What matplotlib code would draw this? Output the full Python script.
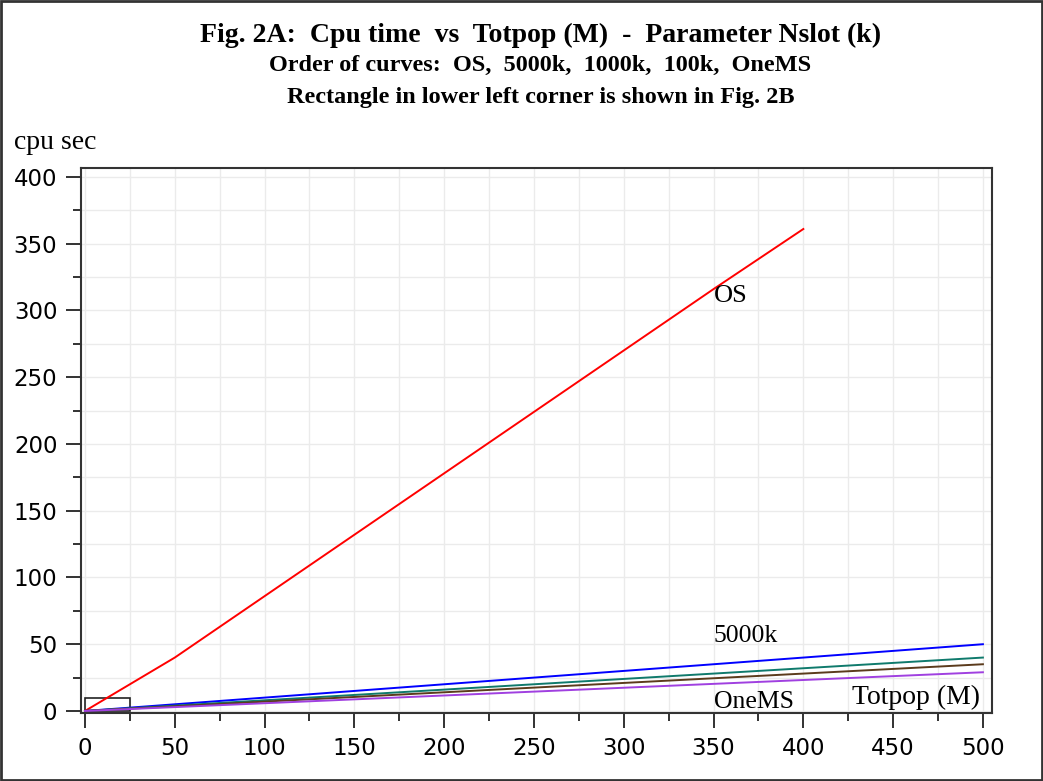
import matplotlib
matplotlib.use("Agg")
import matplotlib.pyplot as plt
from matplotlib.patches import Rectangle
from matplotlib.ticker import MultipleLocator

# cpu seconds per total population (millions), one series per Nslot setting
totpop_os = [0, 50, 100, 150, 200, 250, 300, 350, 400]
cpu_os = [0, 40, 86, 132, 178, 224, 270, 316, 361]

totpop = [0, 50, 100, 150, 200, 250, 300, 350, 400, 450, 500]
cpu_5000k = [0, 5, 10, 15, 20, 25, 30, 35, 40, 45, 50]
cpu_1000k = [0, 4, 8, 12, 16, 20, 24, 28, 32, 36, 40]
cpu_100k = [0, 3.5, 7, 10.5, 14, 17.5, 21, 24.5, 28, 31.5, 35]
cpu_onems = [0, 2.9, 5.8, 8.7, 11.6, 14.5, 17.4, 20.3, 23.2, 26.1, 29]

zoom_box = (0, 0, 25, 10)  # x0, y0, width, height of the detail region

serif = ["Liberation Serif", "DejaVu Serif"]

fig = plt.figure(figsize=(10.43, 7.81), dpi=100)
ax = fig.add_axes([0.0777, 0.0871, 0.8733, 0.6978])

ax.plot(totpop_os, cpu_os, color="#ff0000", lw=1.4)
ax.plot(totpop, cpu_5000k, color="#0000ff", lw=1.4)
ax.plot(totpop, cpu_1000k, color="#0f7a6c", lw=1.4)
ax.plot(totpop, cpu_100k, color="#5b3b1c", lw=1.4)
ax.plot(totpop, cpu_onems, color="#a040e0", lw=1.4)

x0, y0, w, h = zoom_box
ax.add_patch(Rectangle((x0, y0), w, h, fill=False, edgecolor="#222222", lw=1.2))

ax.set_xlim(-2.2, 505)
ax.set_ylim(-1.5, 406.7)
ax.xaxis.set_major_locator(MultipleLocator(50))
ax.xaxis.set_minor_locator(MultipleLocator(25))
ax.yaxis.set_major_locator(MultipleLocator(50))
ax.yaxis.set_minor_locator(MultipleLocator(25))
ax.grid(True, which="both", color="#ebebeb", lw=1.0)
ax.set_axisbelow(True)
ax.tick_params(which="major", length=11, width=1.3, labelsize=16.5, color="#222222", pad=6)
ax.tick_params(which="minor", length=6, width=1.3, color="#222222")
for s in ax.spines.values():
    s.set_color("#333333")
    s.set_linewidth(1.5)

ax.text(350, 311, "OS", family=serif, fontsize=19, va="center")
ax.text(350, 56, "5000k", family=serif, fontsize=18.5, va="center")
ax.text(350, 7, "OneMS", family=serif, fontsize=18.5, va="center")
ax.text(427, 10, "Totpop (M)", family=serif, fontsize=20, va="center")

fig.text(0.0135, 0.817, "cpu sec", family=serif, fontsize=20, va="center")

fig.text(0.518, 0.955, "Fig. 2A:  Cpu time  vs  Totpop (M)  -  Parameter Nslot (k)",
         family=serif, fontsize=20, weight="bold", ha="center", va="center")
fig.text(0.518, 0.916, "Order of curves:  OS,  5000k,  1000k,  100k,  OneMS",
         family=serif, fontsize=17.5, weight="bold", ha="center", va="center")
fig.text(0.518, 0.875, "Rectangle in lower left corner is shown in Fig. 2B",
         family=serif, fontsize=17.5, weight="bold", ha="center", va="center")

fig.add_artist(Rectangle((0.001, 0.001), 0.998, 0.998, transform=fig.transFigure,
                         fill=False, edgecolor="#333333", lw=2))

fig.savefig("out.png", dpi=100)
